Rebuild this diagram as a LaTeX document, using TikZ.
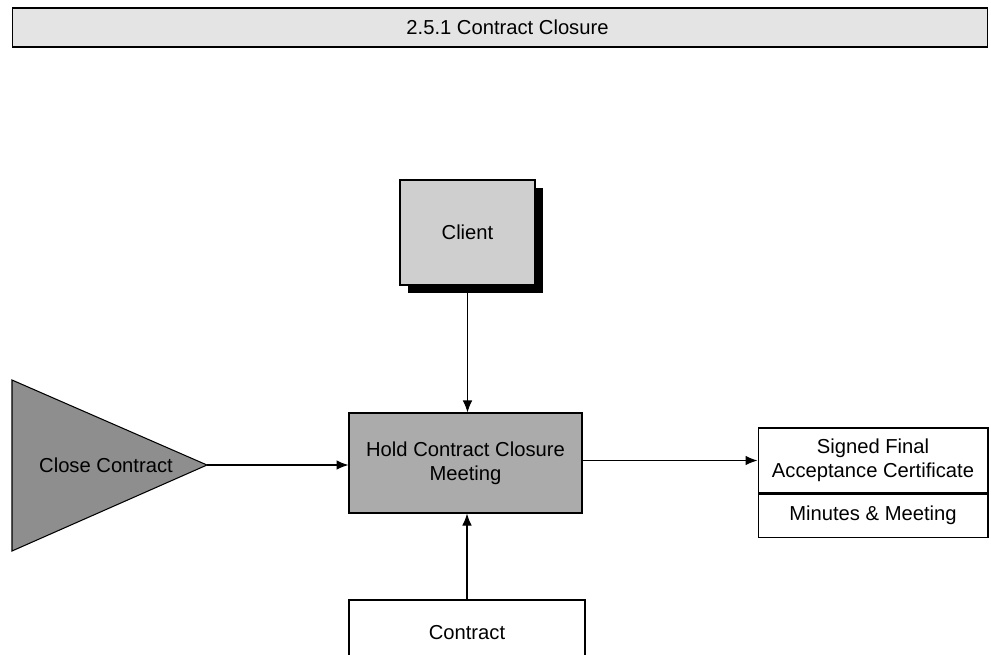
\documentclass[tikz,border=0pt]{standalone}
\usepackage{fontspec}
\setmainfont{Liberation Sans}
\usetikzlibrary{arrows.meta,shadows}
\definecolor{barfill}{HTML}{E4E4E4}
\definecolor{clientfill}{HTML}{CFCFCF}
\definecolor{taskfill}{HTML}{ABABAB}
\definecolor{trigfill}{HTML}{8E8E8E}
\begin{document}
\begin{tikzpicture}[x=0.02cm,y=-0.02cm,
  every node/.style={font=\fontsize{11.5}{13.5}\selectfont,align=center},
  box/.style={draw,semithick,inner sep=0pt},
  flow/.style={-{Latex[length=2.4mm,width=1.9mm]},semithick}]
  \useasboundingbox (0,0) rectangle (991,654);
  \clip (0,0) rectangle (991,654);
  % title bar
  \node[box,fill=barfill,minimum width=19.52cm,minimum height=0.78cm] (title) at (500,27.5) {\hspace*{0.3cm}2.5.1 Contract Closure};
  % trigger
  \coordinate (tip) at (207,465);
  \draw[semithick,fill=trigfill] (12,380) -- (tip) -- (12,551) -- cycle;
  \node (close) at (106,465) {Close Contract};
  % main task and its inputs/outputs
  \node[box,fill=clientfill,minimum width=2.7cm,minimum height=2.1cm,
    drop shadow={shadow xshift=0.16cm,shadow yshift=-0.16cm,fill=black,opacity=1}] (client) at (467.5,232.5) {Client};
  \node[box,fill=taskfill,minimum width=4.66cm,minimum height=2cm] (hold) at (465.5,463) {Hold Contract Closure\\Meeting};
  \node[box,fill=white,minimum width=4.6cm,minimum height=1.3cm] (cert) at (873,460.5) {Signed Final\\Acceptance Certificate};
  \node[box,fill=white,minimum width=4.6cm,minimum height=0.86cm,anchor=north] (minutes) at (cert.south) {Minutes \& Meeting};
  \node[box,fill=white,minimum width=4.72cm,minimum height=1.3cm] (contract) at (467,632.5) {Contract};
  \draw[flow] (tip) -- (hold.west |- tip);
  \draw[flow] (client.south) -- (client.south |- hold.north);
  \draw[flow] (contract.north) -- (contract.north |- hold.south);
  \draw[flow] (hold.east |- cert.west) -- (cert.west);
\end{tikzpicture}
\end{document}
